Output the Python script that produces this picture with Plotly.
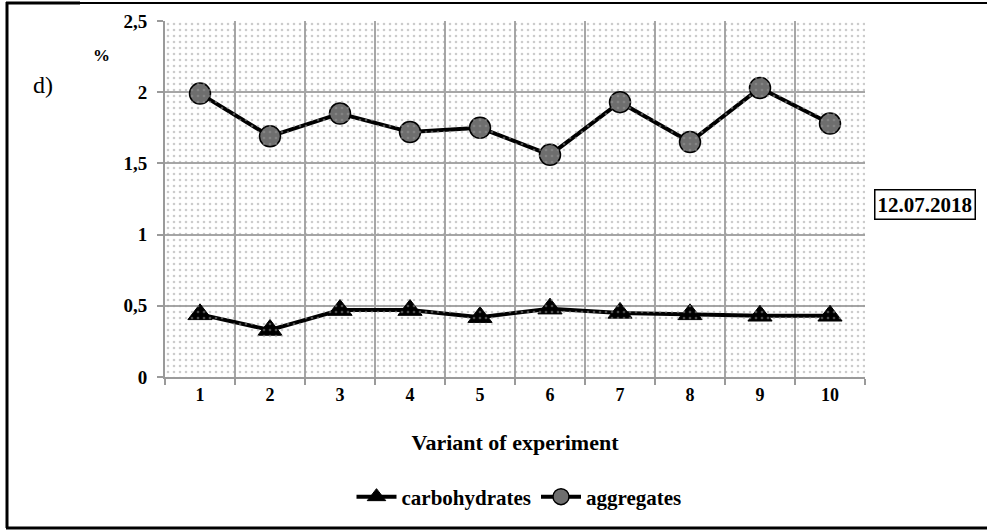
import plotly.graph_objects as go

variants = [1, 2, 3, 4, 5, 6, 7, 8, 9, 10]
carbohydrates = [0.44, 0.33, 0.47, 0.47, 0.42, 0.48, 0.45, 0.44, 0.43, 0.43]
aggregates = [1.99, 1.69, 1.85, 1.72, 1.75, 1.56, 1.93, 1.65, 2.03, 1.78]
y_ticks = [0, 0.5, 1, 1.5, 2, 2.5]
y_tick_labels = ["0", "0,5", "1", "1,5", "2", "2,5"]

FONT = "Liberation Serif"
W, H = 987, 531
L, R, T, B = 165, 122, 21, 154
PW, PH = W - L - R, H - T - B

def px(x):
    return (x - L) / PW

def py(y):
    return (H - B - y) / PH

fig = go.Figure()

# dotted background of the plot area
fig.add_trace(go.Bar(
    x=[0.5], y=[1], width=[1], xaxis="x2", yaxis="y2",
    marker=dict(color="rgba(0,0,0,0)", line=dict(width=0),
                pattern=dict(shape=".", fgcolor="#9a9a9a", size=6, solidity=0.15,
                             fillmode="overlay")),
    showlegend=False, hoverinfo="skip"))

fig.add_trace(go.Scatter(
    x=variants, y=carbohydrates, name="carbohydrates", mode="lines+markers",
    line=dict(color="black", width=4),
    marker=dict(symbol="triangle-up", size=21, color="black",
                line=dict(color="black", width=1))))

fig.add_trace(go.Scatter(
    x=variants, y=aggregates, name="aggregates", mode="lines+markers",
    line=dict(color="black", width=4),
    marker=dict(symbol="circle", size=21, color="#6e6e6e",
                line=dict(color="black", width=1.5))))

fig.update_layout(
    width=W, height=H,
    margin=dict(l=L, r=R, t=T, b=B),
    paper_bgcolor="white", plot_bgcolor="white",
    separators=", ",
    font=dict(family=FONT, size=18, color="black"),
    bargap=0,
    xaxis=dict(
        range=[0.5, 10.5], tickmode="array", tickvals=variants,
        ticktext=[f"<b>{v}</b>" for v in variants],
        showgrid=False, zeroline=False, ticks="",
        showline=True, linecolor="#9a9a9a", linewidth=2,
        tickfont=dict(family=FONT, size=18),
        minor=dict(tick0=0.5, dtick=1, showgrid=True, gridcolor="#a6a6a6",
                   gridwidth=1.5, ticks="outside", ticklen=6, tickcolor="#9a9a9a",
                   tickwidth=1.5),
        title=dict(text="<b>Variant of experiment</b>", font=dict(family=FONT, size=22),
                   standoff=31),
    ),
    yaxis=dict(
        range=[0, 2.5], tickmode="array", tickvals=y_ticks,
        ticktext=[f"<b>{t}</b>" for t in y_tick_labels],
        showgrid=True, gridcolor="#a6a6a6", gridwidth=1.5, zeroline=False,
        showline=True, linecolor="#9a9a9a", linewidth=2,
        ticks="outside", ticklen=6, tickcolor="#9a9a9a", tickwidth=1.5,
        tickfont=dict(family=FONT, size=19), ticklabelstandoff=6,
    ),
    xaxis2=dict(overlaying="x", range=[0, 1], visible=False, fixedrange=True),
    yaxis2=dict(overlaying="y", range=[0, 1], visible=False, fixedrange=True),
    legend=dict(orientation="h", x=px(519), xanchor="center", y=py(497),
                yanchor="middle",
                font=dict(family=FONT, size=21, weight="bold"),
                itemwidth=40, bgcolor="rgba(0,0,0,0)"),
    annotations=[
        dict(text="<b>%</b>", x=px(101), y=py(55), xref="paper", yref="paper",
             xanchor="center", yanchor="middle",
             showarrow=False, font=dict(family=FONT, size=17)),
        dict(text="d)", x=px(43), y=py(85), xref="paper", yref="paper",
             xanchor="center", yanchor="middle",
             showarrow=False, font=dict(family=FONT, size=24)),
        dict(text="<b>12.07.2018</b>", x=px(925), y=py(205), xref="paper", yref="paper",
             xanchor="center", yanchor="middle",
             showarrow=False, font=dict(family=FONT, size=21),
             bordercolor="black", borderwidth=1.5, borderpad=2, bgcolor="white"),
    ],
    shapes=[
        dict(type="line", xref="paper", yref="paper", x0=px(6), x1=px(987),
             y0=py(3), y1=py(3), line=dict(color="black", width=2)),
        dict(type="line", xref="paper", yref="paper", x0=px(6), x1=px(80),
             y0=py(3), y1=py(3), line=dict(color="black", width=3)),
        dict(type="line", xref="paper", yref="paper", x0=px(7), x1=px(7),
             y0=py(2), y1=py(528), line=dict(color="black", width=3)),
        dict(type="line", xref="paper", yref="paper", x0=px(6), x1=px(987),
             y0=py(528), y1=py(528), line=dict(color="black", width=3)),
    ],
)

fig.write_html("out.html", config={"displayModeBar": False},
               post_script="document.body.style.margin='0';")
